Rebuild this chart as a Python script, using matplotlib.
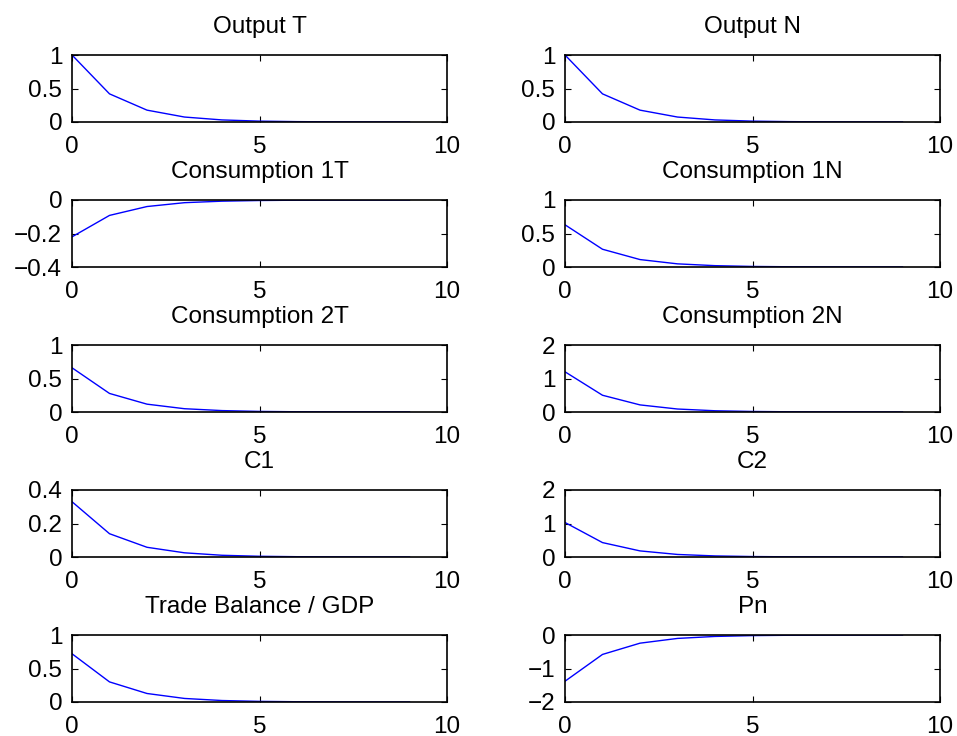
import numpy as np
import matplotlib
matplotlib.use('Agg')
import matplotlib.pyplot as plt

plt.rcParams['font.family'] = ['Liberation Sans', 'DejaVu Sans']

# horizon
periods = list(range(10))

# impulse responses
output_t = [1.0, 0.42, 0.177, 0.074, 0.031, 0.013, 0.0055, 0.0023, 0.001, 0.0004]
output_n = [1.0, 0.42, 0.177, 0.074, 0.031, 0.013, 0.0055, 0.0023, 0.001, 0.0004]
cons_1t = [-0.22, -0.092, -0.039, -0.016, -0.007, -0.003, -0.0012, -0.0005, -0.0002, -0.0001]
cons_1n = [0.63, 0.265, 0.111, 0.047, 0.02, 0.0083, 0.0035, 0.0015, 0.0006, 0.0003]
cons_2t = [0.66, 0.277, 0.117, 0.049, 0.021, 0.0087, 0.0036, 0.0015, 0.0006, 0.0003]
cons_2n = [1.2, 0.5, 0.212, 0.089, 0.037, 0.016, 0.0066, 0.0028, 0.0012, 0.0005]
c1 = [0.33, 0.139, 0.058, 0.025, 0.0103, 0.0043, 0.0018, 0.0008, 0.0003, 0.0001]
c2 = [1.03, 0.43, 0.182, 0.076, 0.032, 0.0135, 0.0057, 0.0024, 0.001, 0.0004]
tb_gdp = [0.72, 0.3, 0.127, 0.053, 0.022, 0.0094, 0.004, 0.0017, 0.0007, 0.0003]
pn = [-1.38, -0.58, -0.244, -0.102, -0.043, -0.018, -0.0076, -0.0032, -0.0013, -0.0006]

titles = ['Output T', 'Output N', 'Consumption 1T', 'Consumption 1N',
          'Consumption 2T', 'Consumption 2N', 'C1', 'C2',
          'Trade Balance / GDP', 'Pn']
series = [output_t, output_n, cons_1t, cons_1n, cons_2t, cons_2n, c1, c2, tb_gdp, pn]
ylims = [(0, 1), (0, 1), (-0.4, 0), (0, 1), (0, 1), (0, 2), (0, 0.4), (0, 2), (0, 1), (-2, 0)]
yticks = [[0, 0.5, 1], [0, 0.5, 1], [-0.4, -0.2, 0], [0, 0.5, 1], [0, 0.5, 1],
          [0, 1, 2], [0, 0.2, 0.4], [0, 1, 2], [0, 0.5, 1], [-2, -1, 0]]
yticklabels = [['0', '0.5', '1'], ['0', '0.5', '1'], ['\u22120.4', '\u22120.2', '0'],
               ['0', '0.5', '1'], ['0', '0.5', '1'], ['0', '1', '2'],
               ['0', '0.2', '0.4'], ['0', '1', '2'], ['0', '0.5', '1'], ['\u22122', '\u22121', '0']]

W, H = 957, 736
fig = plt.figure(figsize=(W / 100, H / 100), dpi=100)

lefts = [72, 565]
tops = [55, 200, 345, 490, 635]
aw, ah = 375, 67

for k in range(10):
    r, c = divmod(k, 2)
    ax = fig.add_axes([lefts[c] / W, 1 - (tops[r] + ah) / H, aw / W, ah / H])
    ax.plot(periods, series[k], color='blue', lw=1)
    ax.set_xlim(0, 10)
    ax.set_ylim(*ylims[k])
    ax.set_xticks([0, 5, 10])
    ax.set_xticklabels(['0', '5', '10'])
    ax.set_yticks(yticks[k])
    ax.set_yticklabels(yticklabels[k])
    ax.tick_params(direction='in', top=True, right=True, length=4, width=0.8,
                   labelsize=17.5)
    ax.tick_params(axis='x', pad=10)
    ax.tick_params(axis='y', pad=7)
    for s in ax.spines.values():
        s.set_linewidth(1.2)
    ax.set_title(titles[k], fontsize=17.5, pad=16)

fig.savefig('out.png', dpi=100)
